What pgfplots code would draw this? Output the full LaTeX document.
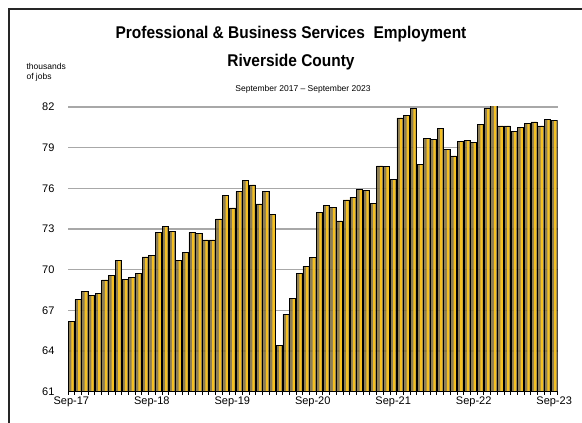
\documentclass[border=0pt]{standalone}
\usepackage{pgfplots}
\pgfplotsset{compat=1.18}
\usepackage{fontspec}
\setmainfont{Liberation Sans}
\definecolor{bolive}{HTML}{7C6C40}
\definecolor{bgold}{HTML}{F4C024}
\definecolor{gridgray}{HTML}{A8A8A8}
\pgfplotstableread{
x y
0 66.2
1 67.8
2 68.4
3 68.1
4 68.25
5 69.25
6 69.55
7 70.7
8 69.3
9 69.45
10 69.75
11 70.95
12 71.05
13 72.75
14 73.2
15 72.85
16 70.7
17 71.25
18 72.75
19 72.65
20 72.2
21 72.2
22 73.75
23 75.5
24 74.55
25 75.75
26 76.6
27 76.25
28 74.85
29 75.75
30 74.1
31 64.4
32 66.7
33 67.9
34 69.75
35 70.25
36 70.9
37 74.2
38 74.75
39 74.6
40 73.6
41 75.15
42 75.35
43 75.95
44 75.85
45 74.9
46 77.65
47 77.6
48 76.65
49 81.2
50 81.4
51 81.9
52 77.75
53 79.7
54 79.6
55 80.4
56 78.9
57 78.4
58 79.45
59 79.55
60 79.4
61 80.7
62 81.9
63 82.15
64 80.6
65 80.6
66 80.2
67 80.5
68 80.8
69 80.9
70 80.6
71 81.1
72 81.0
}\jobs
\begin{document}
\begin{tikzpicture}
\useasboundingbox (0pt,0pt) rectangle (582pt,423pt);
\draw[line width=1.3pt, black!85] (9pt,-5pt) -- (9pt,414pt) -- (590pt,414pt);
\node[font=\bfseries\fontsize{17}{18}\selectfont] at (291pt,389pt) {\scalebox{0.91}[1]{Professional \& Business Services\ \ Employment}};
\node[font=\bfseries\fontsize{17}{18}\selectfont] at (291pt,361pt) {\scalebox{0.91}[1]{Riverside County}};
\node[font=\fontsize{8.5}{10}\selectfont] at (303pt,334pt) {September 2017 -- September 2023};
\node[font=\fontsize{8.5}{9}\selectfont, anchor=west] at (23pt,357pt) {thousands};
\node[font=\fontsize{8.5}{9}\selectfont, anchor=west] at (23pt,346pt) {of jobs};
\begin{axis}[
  at={(68pt,31.3pt)}, anchor=south west, scale only axis,
  width=489.5pt, height=284.7pt,
  xmin=-0.5, xmax=72.5, ymin=61, ymax=82,
  ytick={61,64,...,82},
  xtick={0,12,...,72},
  xticklabels={Sep-17,Sep-18,Sep-19,Sep-20,Sep-21,Sep-22,Sep-23},
  minor xtick={-0.5,0.5,...,72.5},
  tick align=outside,
  major tick length=0pt,
  minor tick length=3pt,
  axis lines*=left,
  y axis line style={draw=none},
  x axis line style={line width=1pt, black},
  xtick style={draw=black, line width=0.7pt},
  ytick style={draw=none},
  ymajorgrids,
  grid style={gridgray, line width=1.1pt},
  tick label style={font=\fontsize{11}{12}\selectfont},
  yticklabel style={xshift=-10pt},
  xticklabel style={yshift=-2pt},
  /pgf/number format/assume math mode=true,
]
\addplot[ybar, bar width=6.2pt, bar shift=0pt, draw=none, fill=bolive, fill opacity=0.88] table[x=x,y=y] {\jobs};
\addplot[ybar, bar width=2.3pt, bar shift=1.1pt, draw=none, fill=bgold] table[x=x,y=y] {\jobs};
\addplot[ybar, bar width=6.2pt, bar shift=0pt, draw=black, line width=0.6pt, fill=none] table[x=x,y=y] {\jobs};
\end{axis}
\end{tikzpicture}
\end{document}
